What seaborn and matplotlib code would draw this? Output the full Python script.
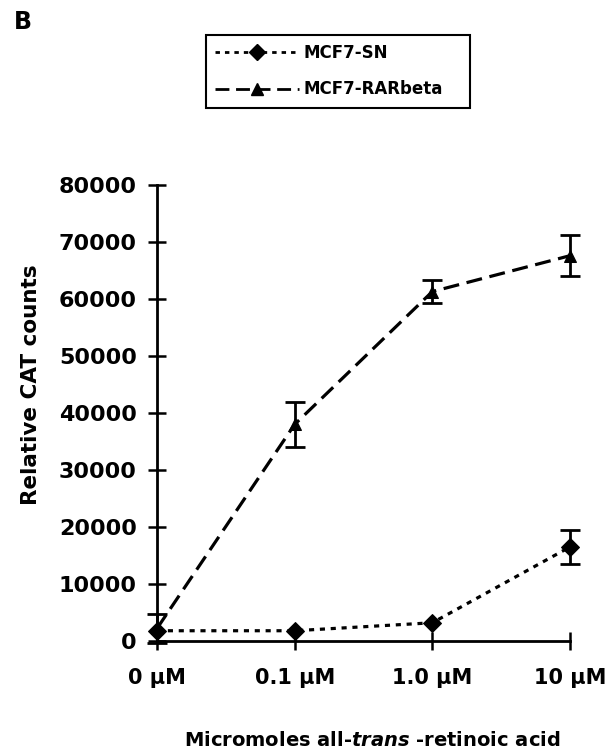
import matplotlib
matplotlib.use("Agg")
import matplotlib.pyplot as plt
import seaborn as sns
import pandas as pd
import numpy as np

# Retinoic acid concentrations and CAT reporter readings
doses = ["0 µM", "0.1 µM", "1.0 µM", "10 µM"]
sn_mean = [1800, 1800, 3200, 16500]
sn_err = [0, 0, 0, 3000]
rar_mean = [2200, 38000, 61300, 67600]
rar_err = [2500, 4000, 2000, 3600]
y_ticks = [0, 10000, 20000, 30000, 40000, 50000, 60000, 70000, 80000]

sns.set_theme(style="ticks")
plt.rcParams["font.family"] = ["DejaVu Sans"]
plt.rcParams["font.weight"] = "bold"
plt.rcParams["mathtext.fontset"] = "dejavusans"
plt.rcParams["text.color"] = "black"
plt.rcParams["axes.labelcolor"] = "black"

SN_DASH = (1.6, 1.8)
RAR_DASH = (5.0, 2.4)

pos = np.arange(len(doses))
df = pd.concat([
    pd.DataFrame({"pos": pos, "counts": sn_mean, "err": sn_err, "line": "MCF7-SN"}),
    pd.DataFrame({"pos": pos, "counts": rar_mean, "err": rar_err, "line": "MCF7-RARbeta"}),
])

fig = plt.figure(figsize=(6.11, 7.49), dpi=100)
ax = fig.add_axes([157 / 611, 1 - 641 / 749, (570 - 157) / 611, (641 - 185) / 749])

sns.lineplot(
    data=df, x="pos", y="counts", hue="line", style="line",
    palette={"MCF7-SN": "black", "MCF7-RARbeta": "black"},
    dashes={"MCF7-SN": SN_DASH, "MCF7-RARbeta": RAR_DASH},
    markers={"MCF7-SN": "D", "MCF7-RARbeta": "^"},
    markersize=9, markeredgecolor="black", linewidth=2.3,
    ax=ax, legend=False, clip_on=False, zorder=3,
)

for name, sub in df.groupby("line"):
    e = sub[sub["err"] > 0]
    ax.errorbar(e["pos"], e["counts"], yerr=e["err"], fmt="none",
                ecolor="black", elinewidth=2, capsize=7.5, capthick=2,
                clip_on=False, zorder=4)

ax.set_xlim(0, 3)
ax.set_ylim(0, 80000)
ax.set_xticks(pos)
ax.set_xticklabels(doses)
ax.set_yticks(y_ticks)
ax.set_yticklabels([str(v) for v in y_ticks])
ax.tick_params(axis="both", direction="inout", length=13, width=1.8,
               colors="black")
ax.tick_params(axis="x", pad=13, labelsize=15)
ax.tick_params(axis="y", pad=8, labelsize=16)
for lbl in ax.get_xticklabels() + ax.get_yticklabels():
    lbl.set_fontweight("bold")
sns.despine(ax=ax)
for side in ("left", "bottom"):
    ax.spines[side].set_linewidth(2)
    ax.spines[side].set_color("black")

ax.set_xlabel("")
ax.set_ylabel("Relative CAT counts", fontsize=15.5, fontweight="bold")
# label sits a little above the middle of the axis
ax.yaxis.set_label_coords(-0.28, (641 - 385) / (641 - 185))

# x-axis title with italic "trans"
fig.text(372 / 611, 1 - 740 / 749, "Micromoles all-$\\bfit{trans}$ -retinoic acid",
         ha="center", va="center", fontsize=14, fontweight="bold")

fig.text(14 / 611, 1 - 22 / 749, "B", fontsize=17, fontweight="bold",
         ha="left", va="center")

# Legend box
handles = [
    plt.Line2D([], [], color="black", linestyle=(0, SN_DASH), linewidth=2,
               marker="D", markersize=8),
    plt.Line2D([], [], color="black", linestyle=(0, RAR_DASH), linewidth=2,
               marker="^", markersize=9),
]
leg = fig.legend(handles, ["MCF7-SN", "MCF7-RARbeta"],
                 loc="upper left",
                 bbox_to_anchor=(206 / 611, 1 - 35 / 749, 264 / 611, 0),
                 mode="expand",
                 borderaxespad=0, frameon=True, fancybox=False, edgecolor="black",
                 framealpha=1,
                 handlelength=5, handletextpad=0.3, labelspacing=1.1,
                 borderpad=0.55,
                 prop={"weight": "bold", "size": 12})
leg.get_frame().set_linewidth(1.5)

fig.savefig("out.png", dpi=100, facecolor="white")
